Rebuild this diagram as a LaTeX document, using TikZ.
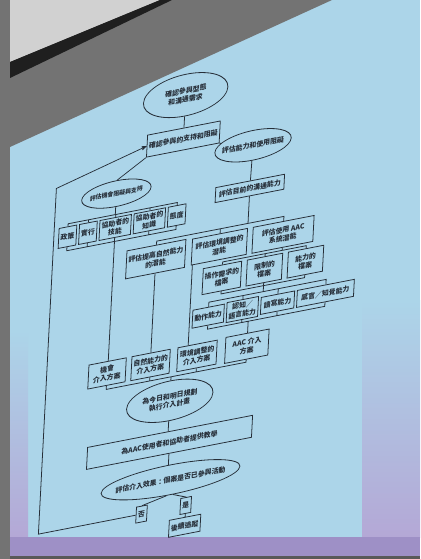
\documentclass[tikz,border=0pt]{standalone}
\usepackage{fontspec}
\setmainfont{Noto Sans CJK TC}
\usepackage{tikz}
\usetikzlibrary{arrows,positioning,shapes}
\definecolor{inkgray}{RGB}{38,46,56}
\definecolor{screenblue}{RGB}{172,213,233}
\definecolor{lavender}{RGB}{180,168,214}
\definecolor{bandpurple}{RGB}{158,144,198}
\tikzset{
  box/.style={
    draw=inkgray,
    text=inkgray,
    rectangle,
    align=center,
    inner xsep=2pt,
    inner ysep=1pt,
    minimum height=20pt,
    font=\fontsize{7}{8.5}\selectfont\bfseries
  },
  oval/.style={
    box,
    ellipse,
    inner xsep=-2pt,
    inner ysep=3pt
  }
}
\begin{document}
\begin{tikzpicture}[%
        x=1pt,
        y=1pt,
        line width=0.8pt,
        >=stealth',
        node distance=2pt]
      % screen and room
      \useasboundingbox (0,0) rectangle (420,-559);
      \fill[screenblue] (0,0) rectangle (420,-559);
      \shade[top color=screenblue,bottom color=lavender] (0,-330) rectangle (28,-537);
      \shade[top color=screenblue,bottom color=lavender] (362,-300) rectangle (420,-537);
      \fill[bandpurple] (0,-537) rectangle (420,-556);
      \fill[black!65] (0,-556) rectangle (420,-559);
      \fill[black!55] (0,0) rectangle (10,-559);
      \fill[black!55] (10,0) -- (332,0) -- (10,-147) -- cycle;
      \fill[black!18] (10,0) -- (160,0) -- (10,-62) -- cycle;
      \fill[black!88] (10,-62) -- (160,0) -- (172,0) -- (10,-78) -- cycle;
      \begin{scope}[transform canvas={cm={0.982,0.191,0.052,0.999,(19.38pt,-40.41pt)}},draw=inkgray]
      \node[oval,minimum width=86pt,minimum height=42pt] (ident)   at (174,-88)  {確認參與型態\\和溝通需求};
      \node[box,minimum height=22pt]                     (barrier) at (174,-132) {確認參與的支持和阻礙};
      \node[oval,minimum width=62pt,minimum height=26pt,
            font=\fontsize{6}{7}\selectfont\bfseries]   (opport)  at (108,-174) {評估機會阻礙與支持};
      \node[oval,inner xsep=-4pt,minimum height=30pt]    (access)  at (246,-152) {評估能力和使用阻礙};
      \node[box,minimum width=70pt,minimum height=15pt]  (current) at (245,-195) {評估目前的溝通能力};
      % opportunity barriers
      \node[box] (policy)                      at (60,-208) {政策};
      \node[box] (practice)  [right=of policy]              {實行};
      \node[box] (skill)     [right=of practice]            {協助者的\\技能};
      \node[box] (knowledge) [right=of skill]               {協助者的\\知識};
      \node[box] (attitude)  [right=of knowledge]           {態度};
      % access barriers
      \node[box,minimum width=56pt,minimum height=28pt] (natural)                  at (152,-248) {評估提高自然能力\\的潛能};
      \node[box,minimum width=56pt,minimum height=26pt] (envir)  [right=6pt of natural]       {評估環境調整的\\潛能};
      \node[box,minimum width=62pt,minimum height=26pt] (aacsys) [right=5pt of envir]         {評估使用 AAC\\系統潛能};
      \node[box,minimum width=38pt,minimum height=26pt] (operat)                   at (221,-280) {操作需求的\\檔案};
      \node[box,minimum width=36pt,minimum height=26pt] (constr) [right=5pt of operat]        {限制的\\檔案};
      \node[box,minimum width=36pt,minimum height=26pt] (capab)  [right=5pt of constr]        {能力的\\檔案};
      \node[box,minimum height=18pt]                    (motor)                    at (209,-316) {動作能力};
      \node[box,minimum height=20pt]                    (cognit)   [right=of motor]          {認知／\\語言能力};
      \node[box,minimum width=34pt,minimum height=17pt] (literacy) [right=of cognit]         {讀寫能力};
      \node[box,minimum width=58pt,minimum height=17pt] (sensory)  [right=of literacy]       {感官／知覺能力};
      % interventions
      \node[box,minimum width=38pt,minimum height=24pt] (oppint)                   at (108,-354) {機會\\介入方案};
      \node[box,minimum width=38pt,minimum height=24pt] (natint) [right=5pt of oppint]        {自然能力的\\介入方案};
      \node[box,minimum width=40pt,minimum height=24pt] (envint) [right=7pt of natint]        {環境調整的\\介入方案};
      \node[box,minimum width=44pt,minimum height=26pt] (aacint) [right=8pt of envint]        {AAC 介入\\方案};
      \node[oval,minimum width=88pt,minimum height=40pt] (plan)     at (174,-394) {為今日和明日規劃\\執行介入計畫};
      \node[box,minimum width=168pt,minimum height=22pt] (teach)    at (176,-436) {為AAC使用者和協助者提供教學};
      \node[oval,inner xsep=-6pt,minimum height=30pt]    (evaluate) at (179,-474) {評估介入效果：個案是否已參與活動};
      \node[box,minimum height=16pt] (no)                    at (151,-503) {否};
      \node[box,minimum height=16pt] (yes)                   at (196,-503) {是};
      \node[box,minimum height=17pt] (follow) [below=3pt of yes]           {後續追蹤};
      % bar levels
      \coordinate (barAtop) at (0,-195);
      \coordinate (barAbot) at (0,-222);
      \coordinate (barBtop) at (0,-230);
      \coordinate (barCtop) at (0,-264);
      \coordinate (barCbot) at (0,-296);
      \coordinate (barDtop) at (0,-302);
      \coordinate (barDbot) at (0,-329);
      \coordinate (barEbot) at (0,-370);
      \coordinate (envline) at (190,0);
      \coordinate (fb)      at (46,-157);
      \draw (ident) -- (barrier);
      \draw (barrier.south west) -- (opport.north);
      \draw (barrier.south east) -- (access);
      \draw (access) -- (current);
      \draw (opport) -- (opport |- barAtop)
            (policy.north) -- (policy |- barAtop) -- (attitude |- barAtop) -- (attitude.north)
            (practice.north) -- (practice |- barAtop)
            (skill.north) -- (skill |- barAtop)
            (knowledge.north) -- (knowledge |- barAtop);
      \draw (policy.south) -- (policy |- barAbot) -- (attitude |- barAbot) -- (attitude.south)
            (practice.south) -- (practice |- barAbot)
            (skill.south) -- (skill |- barAbot) -- (skill |- oppint.north)
            (knowledge.south) -- (knowledge |- barAbot);
      \draw (current) -- (current |- barBtop)
            (natural.north) -- (natural |- barBtop) -- (aacsys |- barBtop) -- (aacsys.north)
            (envir.north) -- (envir |- barBtop);
      \draw (natural.south) -- (natural.south |- natint.north);
      \draw (envir.south -| envline) -- (envint.north -| envline);
      \draw (aacsys) -- (aacsys |- barCtop)
            (operat.north) -- (operat |- barCtop) -- (capab |- barCtop) -- (capab.north)
            (constr.north) -- (constr |- barCtop);
      \draw (operat.south) -- (operat |- barCbot) -- (capab |- barCbot) -- (capab.south)
            (constr.south) -- (constr |- barCbot) -- (constr |- barDtop)
            (motor.north) -- (motor |- barDtop) -- (sensory |- barDtop) -- (sensory.north)
            (cognit.north) -- (cognit |- barDtop)
            (literacy.north) -- (literacy |- barDtop);
      \draw (motor.south) -- (motor |- barDbot) -- (sensory |- barDbot) -- (sensory.south)
            (cognit.south) -- (cognit |- barDbot)
            (literacy.south) -- (literacy |- barDbot)
            (aacint |- barDbot) -- (aacint.north);
      \draw (oppint.south) -- (oppint |- barEbot) -- (aacint |- barEbot) -- (aacint.south)
            (natint.south) -- (natint |- barEbot)
            (envint.south) -- (envint |- barEbot)
            (plan |- barEbot) -- (plan);
      \draw (plan.south) -- (plan.south |- teach.north);
      \draw (teach.south) -- (teach.south |- evaluate.north);
      \draw (evaluate.258) -- (no.north);
      \draw (evaluate.282) -- (yes.north);
      \draw (yes) -- (follow);
      \draw[->] (no.west) -| (fb) -- (barrier.west);
      \end{scope}
    \end{tikzpicture}
\end{document}
